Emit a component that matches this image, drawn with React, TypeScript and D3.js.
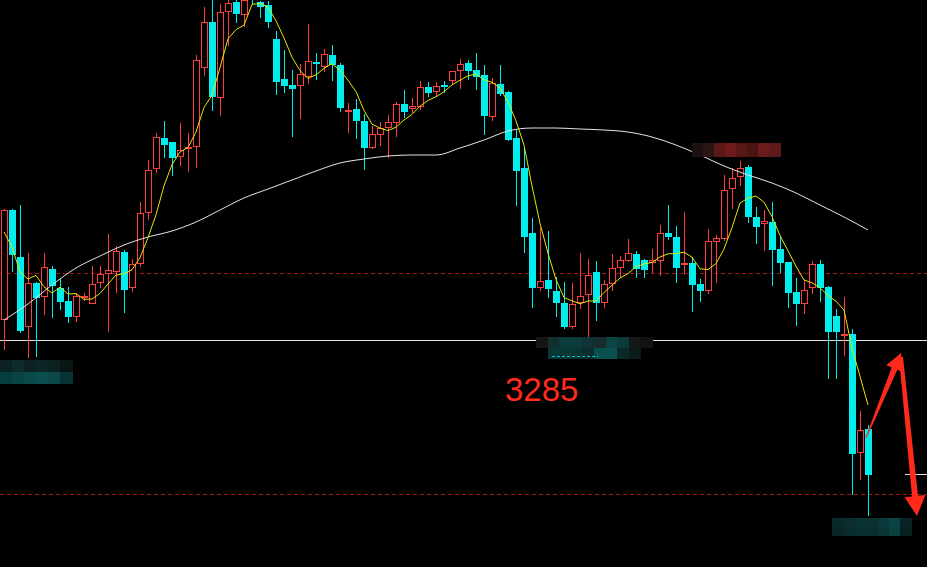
import React from 'react';
import * as d3 from 'd3';

const W = 927;
const H = 567;

// Daily candles (index 0 = leftmost)
const opens = [
  3295, 3350, 3326.5, 3291.5, 3313.5, 3306.5, 3320.5, 3311, 3304.5, 3296.5,
  3306.5, 3303, 3313.5, 3318, 3319, 3329, 3311, 3323, 3348.5, 3370.5,
  3386, 3384, 3376.5, 3381, 3381.5, 3421, 3444, 3406, 3449, 3454,
  3447.5, 3462.5, 3454, 3452.5, 3435.5, 3415.5, 3412.5, 3412, 3416.5, 3424,
  3421.5, 3427.5, 3422.5, 3399.5, 3400.5, 3394.5, 3381, 3387.5, 3391, 3393.5,
  3403, 3400.5, 3401.5, 3411.5, 3409, 3412.5, 3414.5, 3419.5, 3423.5, 3420,
  3417.5, 3396.5, 3413, 3409, 3386, 3371, 3338.5, 3311, 3315, 3309.5,
  3303.5, 3291.5, 3303.5, 3307.5, 3319, 3303.5, 3313, 3321, 3324.5, 3328,
  3325, 3323.5, 3324.5, 3338.5, 3336.5, 3322.5, 3323.5, 3313, 3309.5, 3334,
  3335.5, 3360.5, 3366.5, 3371.5, 3346.5, 3343, 3344, 3330.5, 3324, 3309,
  3303, 3311, 3323, 3311.5, 3297, 3287.5, 3288, 3228.5, 3240.5,
];
const highs = [
  3350.5, 3350.5, 3352.5, 3328.5, 3314, 3328.5, 3322, 3315.5, 3311.5, 3308.5,
  3308.5, 3322, 3322, 3338, 3332, 3330, 3325.5, 3354, 3375, 3388.5,
  3394.5, 3384, 3393.5, 3388.5, 3427.5, 3451.5, 3455, 3453, 3456, 3456,
  3456.5, 3465, 3454.5, 3454.5, 3439.5, 3430, 3420, 3423, 3443, 3428.5,
  3430.5, 3432.5, 3423.5, 3403.5, 3405.5, 3398, 3392, 3394, 3397.5, 3404,
  3410, 3406, 3414.5, 3414, 3414, 3414.5, 3419.5, 3425.5, 3425, 3428.5,
  3422.5, 3416, 3422.5, 3409.5, 3390, 3380.5, 3346, 3341, 3339.5, 3316.5,
  3314, 3313.5, 3328.5, 3325.5, 3324.5, 3315, 3328, 3327, 3335.5, 3329.5,
  3325.5, 3330.5, 3342.5, 3352.5, 3342, 3349, 3326.5, 3315.5, 3340.5, 3337.5,
  3367.5, 3371, 3374.5, 3372.5, 3351.5, 3350, 3354, 3336.5, 3324, 3316,
  3315, 3324.5, 3325, 3312, 3300.5, 3306.5, 3290.5, 3249.5, 3242.5,
];
const lows = [
  3280, 3319, 3288.5, 3276, 3276.5, 3297.5, 3296, 3300, 3293.5, 3294,
  3304.5, 3303, 3311, 3289, 3308.5, 3298.5, 3309, 3321.5, 3345, 3368.5,
  3376, 3367, 3372, 3369, 3371, 3417, 3399.5, 3397, 3432, 3443.5,
  3441.5, 3452.5, 3446, 3441, 3407.5, 3408.5, 3386.5, 3395.5, 3413, 3415,
  3419, 3414.5, 3399, 3388.5, 3385.5, 3370, 3380.5, 3382, 3376, 3386.5,
  3396, 3398.5, 3400, 3406.5, 3407, 3408.5, 3412.5, 3410.5, 3415, 3410,
  3387.5, 3394.5, 3407, 3384.5, 3352, 3328.5, 3301, 3309.5, 3306, 3296.5,
  3290.5, 3290.5, 3300.5, 3286, 3294.5, 3301, 3309.5, 3316, 3324, 3316,
  3316, 3318.5, 3317, 3335, 3313.5, 3317.5, 3299, 3304, 3308, 3313.5,
  3334.5, 3350.5, 3362, 3343.5, 3333, 3329.5, 3312, 3318.5, 3301, 3292,
  3298, 3308, 3304, 3265.5, 3265.5, 3277, 3207.5, 3215, 3197,
];
const closes = [
  3350, 3327.5, 3289.5, 3313.5, 3306, 3321.5, 3312, 3304, 3296.5, 3307,
  3307, 3313, 3318, 3320, 3329.5, 3310, 3323, 3348.5, 3370, 3386.5,
  3382.5, 3376, 3380, 3381.5, 3425, 3444, 3406.5, 3449, 3453.5, 3448,
  3455, 3458.5, 3451.5, 3444, 3414, 3412, 3410.5, 3418, 3424.5, 3423,
  3428, 3422.5, 3401, 3400, 3394.5, 3381, 3388, 3391, 3394, 3403,
  3399, 3402, 3411.5, 3408.5, 3412, 3411.5, 3419.5, 3423, 3419.5, 3416.5,
  3397, 3413.5, 3408, 3385, 3369.5, 3336.5, 3311, 3314.5, 3310.5, 3303.5,
  3291.5, 3303, 3307, 3317.5, 3303.5, 3313, 3321, 3325, 3328.5, 3320.5,
  3320, 3325, 3338.5, 3336.5, 3321, 3323.5, 3312.5, 3309.5, 3334.5, 3336,
  3360, 3366, 3371, 3346.5, 3341.5, 3344.5, 3330, 3323.5, 3308.5, 3303,
  3310, 3323, 3311, 3289, 3289, 3288, 3228, 3240, 3217.5,
];
// Closes of the four sessions before the first visible candle (for the 5-day average)
const seedCloses = [3365, 3352, 3331, 3297];

// Long-period moving average, sampled at candle indices
const longMaIndex = [
  0, 3, 6, 9, 12, 15, 18, 21, 24, 27, 30, 33, 36, 39, 42, 45, 48, 51, 54,
  57, 60, 63, 66, 69, 72, 75, 78, 81, 84, 87, 90, 93, 96, 99, 102, 105, 108,
];
const longMaValues = [
  3295, 3303, 3312.5, 3321, 3327, 3332.5, 3336.5, 3339.5, 3344, 3350,
  3356, 3360.5, 3365, 3369.5, 3373.5, 3375.5, 3377, 3377.5, 3377.5, 3381,
  3385, 3389.5, 3391, 3391, 3390.5, 3390, 3389, 3386.5, 3382.5, 3377.5,
  3372, 3367.5, 3363.5, 3358.5, 3352.5, 3346.5, 3340,
];

const supportLevel = 3285;
const dashedLevels = [3318.5, 3208];
const rightTick = 3218;
const supportLabel = '3285';

const RED = '#ff3f3f';
const CYAN = '#00eeee';
const ARROW = '#ff2a1f';

const x = d3.scaleLinear().domain([0, closes.length - 1]).range([4, 868]);
const y = d3.scaleLinear().domain([3171.5, 3455]).range([H, 0]);
const py = (v: number) => Math.round(y(v)) + 0.5;

const allCloses = [...seedCloses, ...closes];
const ma5 = closes.map((_, i) => d3.mean(allCloses.slice(i, i + 5)) as number);

const maLine = d3
  .line<number>()
  .x((_, i) => x(i))
  .y((d) => y(d));

const longLine = d3
  .line<number>()
  .x((_, i) => x(longMaIndex[i]))
  .y((d) => y(d))
  .curve(d3.curveMonotoneX);

function arrowPoints(
  x0: number, y0: number, x1: number, y1: number,
  w0: number, w1: number, headLen: number, headHalf: number,
): string {
  const dx = x1 - x0;
  const dy = y1 - y0;
  const L = Math.hypot(dx, dy);
  const ux = dx / L, uy = dy / L;
  const nx = -uy, ny = ux;
  const bx = x1 - ux * headLen, by = y1 - uy * headLen;
  const pts = [
    [x0 + (nx * w0) / 2, y0 + (ny * w0) / 2],
    [bx + (nx * w1) / 2, by + (ny * w1) / 2],
    [bx + nx * headHalf, by + ny * headHalf],
    [x1, y1],
    [bx - nx * headHalf, by - ny * headHalf],
    [bx - (nx * w1) / 2, by - (ny * w1) / 2],
    [x0 - (nx * w0) / 2, y0 - (ny * w0) / 2],
  ];
  return pts.map((p) => p.join(',')).join(' ');
}

function Mosaic({ x0, y0, cell, rows }: { x0: number; y0: number; cell: [number, number]; rows: string[][] }) {
  return (
    <g shapeRendering="crispEdges">
      {rows.map((row, r) =>
        row.map((c, k) =>
          c ? (
            <rect key={`${r}-${k}`} x={x0 + k * cell[0]} y={y0 + r * cell[1]} width={cell[0] + 0.5} height={cell[1]} fill={c} />
          ) : null,
        ),
      )}
    </g>
  );
}

function Candles() {
  return (
    <g shapeRendering="crispEdges">
      {closes.map((c, i) => {
        const o = opens[i];
        const up = c >= o;
        const cx = Math.round(x(i));
        const yTop = Math.round(y(Math.max(o, c)));
        const yBot = Math.round(y(Math.min(o, c)));
        const yHi = Math.round(y(highs[i]));
        const yLo = Math.round(y(lows[i]));
        const h = yBot - yTop;
        if (up) {
          return (
            <g key={i}>
              <line x1={cx + 0.5} x2={cx + 0.5} y1={yHi} y2={yTop} stroke={RED} />
              <line x1={cx + 0.5} x2={cx + 0.5} y1={Math.max(yBot, yTop + 2)} y2={yLo} stroke={RED} />
              {h <= 2 ? (
                <rect x={cx - 3} y={yTop} width={7} height={2} fill={RED} />
              ) : (
                <rect x={cx - 2.5} y={yTop + 0.5} width={6} height={h - 1} fill="#000" stroke={RED} />
              )}
            </g>
          );
        }
        return (
          <g key={i}>
            <line x1={cx + 0.5} x2={cx + 0.5} y1={yHi} y2={yLo} stroke={CYAN} />
            <rect x={cx - 3} y={yTop} width={7} height={Math.max(h, 2)} fill={CYAN} />
          </g>
        );
      })}
    </g>
  );
}

export default function App() {
  const ySup = Math.round(y(supportLevel));
  const lastIdx = closes.length - 1;
  const peakIdx = 92;
  const lowTop = Math.round(y(lows[lastIdx])) + 2;
  const highBottom = Math.round(y(highs[peakIdx])) - 4;

  return (
    <svg
      width={W}
      height={H}
      viewBox={`0 0 ${W} ${H}`}
      style={{ position: 'fixed', left: 0, top: 0, background: '#000', display: 'block' }}
    >
      <rect x={0} y={0} width={W} height={H} fill="#000" />

      {/* reference levels */}
      <g shapeRendering="crispEdges">
        {dashedLevels.map((v) => (
          <line key={v} x1={0} x2={W} y1={py(v)} y2={py(v)} stroke="#a01616" strokeDasharray="4,3" />
        ))}
        <line x1={0} x2={W} y1={py(supportLevel)} y2={py(supportLevel)} stroke="#e6e6e6" />
        <line x1={905} x2={W} y1={py(rightTick)} y2={py(rightTick)} stroke="#e6e6e6" />
      </g>

      <Candles />

      {/* moving averages */}
      <path d={longLine(longMaValues) || ''} fill="none" stroke="#e4e4e4" strokeWidth={1} />
      <path d={maLine(ma5) || ''} fill="none" stroke="#e8e800" strokeWidth={1} />

      {/* masked price tags */}
      <Mosaic
        x0={0}
        y0={ySup + 20}
        cell={[12, 12]}
        rows={[
          ['#0a2222', '#0c2b2b', '#0e2222', '#0d2525', '#0b2020', '#081616'],
          ['#073d3d', '#084444', '#0a4a4a', '#0b5050', '#0b4848', '#083333'],
        ]}
      />
      <Mosaic
        x0={536}
        y0={ySup - 3}
        cell={[11.6, 11]}
        rows={[
          ['#151515', '#123030', '#0b3b3b', '#0d3a3a', '#0e3535', '#1a2c2c', '#0d4545', '#0a3a3a', '#161616', '#121212'],
          ['', '#0a3838', '#0b3636', '#0a3434', '#0a2e2e', '#085050', '#085252', '#0a2a2a', '#0d1a1a', ''],
        ]}
      />
      <line x1={552} x2={598} y1={ySup + 16.5} y2={ySup + 16.5} stroke={CYAN} strokeDasharray="3,2" opacity={0.8} />
      <Mosaic
        x0={Math.round(x(peakIdx)) - 48}
        y0={highBottom - 14}
        cell={[11, 14]}
        rows={[['#1e1010', '#2a1414', '#5a1818', '#6e1a1a', '#5a1515', '#4a1414', '#6a1c1c', '#5e1a1a']]}
      />
      <Mosaic
        x0={Math.round(x(lastIdx)) - 36}
        y0={lowTop}
        cell={[11.4, 9]}
        rows={[
          ['#0a2a2a', '#0b2e2e', '#0a3333', '#0a3030', '#0b3a3a', '#0a4545', '#082424'],
          ['#0a2626', '#0b2c2c', '#0a3030', '#0a2e2e', '#0b3535', '#0a4040', '#082020'],
        ]}
      />

      <text
        x={505}
        y={ySup + 61}
        fill="#ff2b1f"
        fontSize={33}
        fontFamily="'Liberation Sans', Arial, sans-serif"
      >
        {supportLabel}
      </text>

      {/* projected path */}
      <defs>
        <filter id="soft" x="-20%" y="-20%" width="140%" height="140%">
          <feGaussianBlur stdDeviation={0.5} />
        </filter>
      </defs>
      <g filter="url(#soft)" fill={ARROW}>
        <polygon points={arrowPoints(866, 438, 901, 353, 1, 6, 17, 9)} />
        <polygon points={arrowPoints(901, 357, 917, 516, 4, 6, 20, 10.5)} />
      </g>
    </svg>
  );
}
